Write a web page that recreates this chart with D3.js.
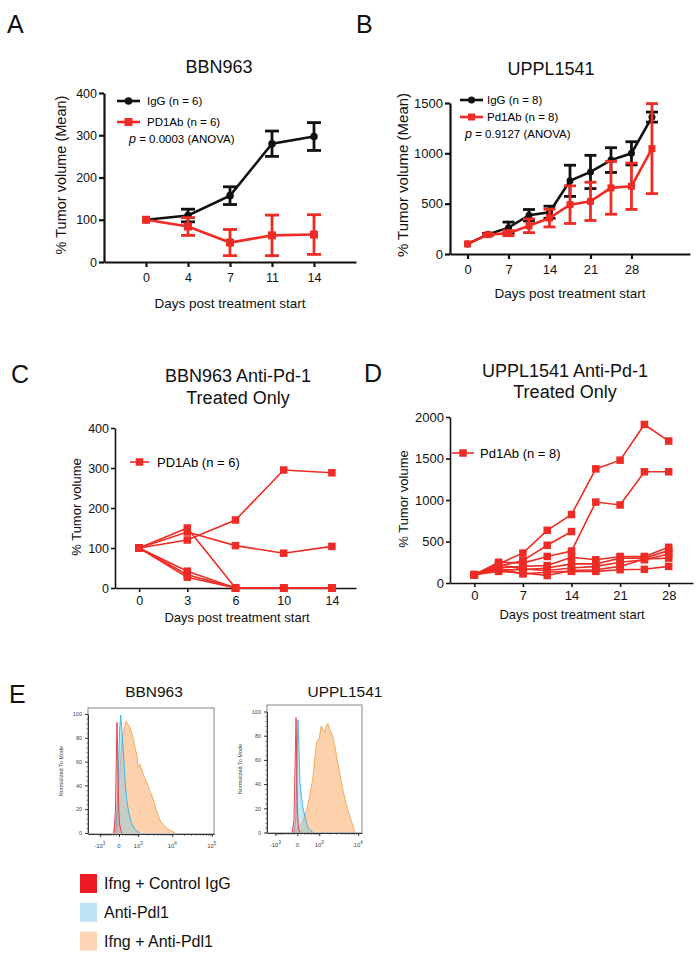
<!DOCTYPE html>
<html><head><meta charset="utf-8">
<script src="https://cdn.jsdelivr.net/npm/d3@7"></script>
<style>
html,body{margin:0;padding:0;background:#fff;}
svg{display:block;font-family:"Liberation Sans",Arial,Helvetica,sans-serif;}
</style></head>
<body><svg id="fig" width="700" height="963"></svg>
<script>
// ---------- DATA ----------
// Panel A (BBN963, mean ± SEM)
const A_days = ["0","4","7","11","14"];
const A_igg_mean = [100,110,157,280,297];
const A_igg_sem  = [0,15,21,30,33];
const A_pd1_mean = [100,84,46,63,65];
const A_pd1_sem  = [0,21,31,48,47];
const A_yticks = [0,100,200,300,400];

// Panel B (UPPL1541, mean ± SEM)
const B_days = [0,3.5,7,10.5,14,17.5,21,24.5,28,31.5];
const B_xticks = [0,7,14,21,28];
const B_igg_mean = [100,195,262,385,415,727,815,933,1000,1360];
const B_igg_sem  = [0,10,55,57,60,155,165,123,115,50];
const B_pd1_mean = [100,192,207,280,357,490,523,657,673,1047];
const B_pd1_sem  = [0,8,25,68,88,187,190,262,230,447];
const B_yticks = [0,500,1000,1500];

// Panel C (BBN963 anti-Pd-1, individual mice)
const C_days = ["0","3","6","10","14"];
const C_mice = [
  [100,120,170,295,288],
  [100,140,106,87,104],
  [100,150,0,0,0],
  [100,42,0,0,0],
  [100,33,0,0,0],
  [100,27,0,0,0]
];
const C_yticks = [0,100,200,300,400];

// Panel D (UPPL1541 anti-Pd-1, individual mice)
const D_days = [0,3.5,7,10.5,14,17.5,21,24.5,28];
const D_xticks = [0,7,14,21,28];
const D_mice = [
  [100,230,360,635,825,1375,1480,1910,1710],
  [100,200,270,455,620,null,null,null,null],
  [100,250,240,320,385,975,940,1340,1340],
  [100,180,200,210,310,280,320,320,430],
  [100,160,160,180,230,230,300,300,390],
  [100,220,170,150,180,200,250,280,350],
  [100,140,120,90,150,160,200,290,300],
  [100,170,110,130,140,140,160,165,200]
];
const D_yticks = [0,500,1000,1500,2000];

// Panel E histograms (fluorescence, % of mode)
const E1_orange_x = [-205,-60,0,93,246,336,438,613,747,900,981,1160,1470,1977,2440,3100,3640,4700,5680,7270,9260,11770];
const E1_orange_y = [0,15,40,80,94,91,89,80,72,65,55,58,50,42,35,28,20,11,7,4,2,0];
const E1_blue_x = [-93,-28,14,51,93,139,204,276,385,533,747,1160];
const E1_blue_y = [0,40,85,99,85,70,45,28,16,8,3,0];
const E1_red_x = [-166,-111,-77,-60,-38,-14,14,60,93];
const E1_red_y = [0,20,70,93,60,25,8,2,0];

const E2_orange_x = [-120,0,150,300,450,596,700,819,1000,1150,1307,1500,1650,1821,2100,2480,2900,3326,4413,5400,6470,8450];
const E2_orange_y = [0,3,8,19,32,46,62,75,78,88,85,83,89,90,84,79,68,56,35,22,13,0];
const E2_blue_x = [-100,-40,0,18,35,72,150,235,350,600];
const E2_blue_y = [0,10,70,93,80,41,22,13,4,0];
const E2_red_x = [-150,-90,-50,-32,-15,0,30,80];
const E2_red_y = [0,10,70,95,60,20,3,0];

const E_xticks = [-1000,0,1000,10000,100000];
const E_xtick_labels = [["-10","3"],["0",""],["10","3"],["10","4"],["10","5"]];
const E_yticks = [0,20,40,60,80,100];
const E_legend = ["Ifng + Control IgG","Anti-Pdl1","Ifng + Anti-Pdl1"];

// ---------- STYLE ----------
const RED = "#ee2b24";
const BLACK = "#111";
const fmt = d3.format("d");
const svg = d3.select("#fig");

function panelLetter(t, x, y){
  svg.append("text").attr("x",x).attr("y",y).attr("font-size",25).attr("fill","#111").text(t);
}
function title(lines, cx, y0, dy){
  lines.forEach((l,i)=>svg.append("text").attr("x",cx).attr("y",y0+i*dy)
    .attr("text-anchor","middle").attr("font-size",18).attr("fill","#111").text(l));
}
function styleAxis(g, fs, sw){
  g.selectAll("path.domain").attr("stroke","#111").attr("stroke-width",sw);
  g.selectAll(".tick line").attr("stroke","#111").attr("stroke-width",sw);
  g.selectAll(".tick text").attr("font-size",fs).attr("fill","#111")
    .attr("font-family","Liberation Sans, Arial, sans-serif");
}
function yLabel(t, x, cy, fs){
  svg.append("text").attr("transform",`translate(${x},${cy}) rotate(-90)`)
    .attr("text-anchor","middle").attr("font-size",fs).attr("fill","#111").text(t);
}
function xLabel(t, cx, y, fs){
  svg.append("text").attr("x",cx).attr("y",y).attr("text-anchor","middle")
    .attr("font-size",fs).attr("fill","#111").text(t);
}
function square(g, cx, cy, s, col){
  g.append("rect").attr("x",cx-s/2).attr("y",cy-s/2).attr("width",s).attr("height",s).attr("fill",col);
}

// ---------- PANEL A ----------
(function(){
  const x = d3.scalePoint().domain(A_days).range([104,356]).padding(1);
  const y = d3.scaleLinear().domain([0,400]).range([262,93]);
  const gx = svg.append("g").attr("transform","translate(0,262)")
    .call(d3.axisBottom(x).tickSize(5).tickSizeOuter(0).tickPadding(6));
  styleAxis(gx,12.5,2.2);
  const gy = svg.append("g").attr("transform","translate(104,0)")
    .call(d3.axisLeft(y).tickValues(A_yticks).tickFormat(fmt).tickSize(5).tickSizeOuter(0).tickPadding(2));
  styleAxis(gy,12.5,2.2);
  const g = svg.append("g");
  const series = [
    {m:A_igg_mean, s:A_igg_sem, c:BLACK, mk:"circle"},
    {m:A_pd1_mean, s:A_pd1_sem, c:RED, mk:"square"}
  ];
  series.forEach(se=>{
    const line = d3.line().x((d,i)=>x(A_days[i])).y(d=>y(d));
    g.append("path").attr("d",line(se.m)).attr("fill","none").attr("stroke",se.c).attr("stroke-width",2.6);
    se.m.forEach((v,i)=>{
      if(se.s[i]>0){
        const cx = x(A_days[i]);
        g.append("line").attr("x1",cx).attr("x2",cx).attr("y1",y(v-se.s[i])).attr("y2",y(v+se.s[i]))
          .attr("stroke",se.c).attr("stroke-width",2.8);
        [v-se.s[i], v+se.s[i]].forEach(e=>g.append("line").attr("x1",cx-7).attr("x2",cx+7)
          .attr("y1",y(e)).attr("y2",y(e)).attr("stroke",se.c).attr("stroke-width",2.8));
      }
      if(se.mk==="circle") g.append("circle").attr("cx",x(A_days[i])).attr("cy",y(v)).attr("r",3.8).attr("fill",se.c);
      else square(g,x(A_days[i]),y(v),8,se.c);
    });
  });
  const lg = svg.append("g");
  lg.append("line").attr("x1",117).attr("x2",140).attr("y1",101).attr("y2",101).attr("stroke",BLACK).attr("stroke-width",2.6);
  lg.append("circle").attr("cx",128.5).attr("cy",101).attr("r",3.8).attr("fill",BLACK);
  lg.append("text").attr("x",147).attr("y",105).attr("font-size",11.5).text("IgG (n = 6)");
  lg.append("line").attr("x1",117).attr("x2",140).attr("y1",122).attr("y2",122).attr("stroke",RED).attr("stroke-width",2.6);
  square(lg,128.5,122,8,RED);
  lg.append("text").attr("x",147).attr("y",126).attr("font-size",11.5).text("PD1Ab (n = 6)");
  const pt = lg.append("text").attr("x",129).attr("y",143).attr("font-size",11.5);
  pt.append("tspan").attr("font-style","italic").attr("font-size",12.5).text("p");
  pt.append("tspan").text(" = 0.0003 (ANOVA)");
  yLabel("% Tumor volume (Mean)",66,175,14.5);
  xLabel("Days post treatment start",230,308,13.5);
  title(["BBN963"],219,73,0);
  panelLetter("A",7,33);
})();

// ---------- PANEL B ----------
(function(){
  const x = d3.scaleLinear().domain([-3,38]).range([450,690]);
  const y = d3.scaleLinear().domain([0,1500]).range([254,103]);
  const gx = svg.append("g").attr("transform","translate(0,254)")
    .call(d3.axisBottom(x).tickValues(B_xticks).tickFormat(fmt).tickSize(5).tickSizeOuter(0).tickPadding(6));
  styleAxis(gx,13,2.2);
  const gy = svg.append("g").attr("transform","translate(450,0)")
    .call(d3.axisLeft(y).tickValues(B_yticks).tickFormat(fmt).tickSize(5).tickSizeOuter(0).tickPadding(2));
  styleAxis(gy,13,2.2);
  const g = svg.append("g");
  const series = [
    {m:B_igg_mean, s:B_igg_sem, c:BLACK, mk:"circle"},
    {m:B_pd1_mean, s:B_pd1_sem, c:RED, mk:"square"}
  ];
  series.forEach(se=>{
    const line = d3.line().x((d,i)=>x(B_days[i])).y(d=>y(d));
    g.append("path").attr("d",line(se.m)).attr("fill","none").attr("stroke",se.c).attr("stroke-width",2.6);
    se.m.forEach((v,i)=>{
      const cx = x(B_days[i]);
      if(se.s[i]>0){
        g.append("line").attr("x1",cx).attr("x2",cx).attr("y1",y(v-se.s[i])).attr("y2",y(v+se.s[i]))
          .attr("stroke",se.c).attr("stroke-width",2.8);
        [v-se.s[i], v+se.s[i]].forEach(e=>g.append("line").attr("x1",cx-6).attr("x2",cx+6)
          .attr("y1",y(e)).attr("y2",y(e)).attr("stroke",se.c).attr("stroke-width",2.8));
      }
      if(se.mk==="circle") g.append("circle").attr("cx",cx).attr("cy",y(v)).attr("r",3.5).attr("fill",se.c);
      else square(g,cx,y(v),7,se.c);
    });
  });
  const lg = svg.append("g");
  lg.append("line").attr("x1",460).attr("x2",483).attr("y1",100).attr("y2",100).attr("stroke",BLACK).attr("stroke-width",2.6);
  lg.append("circle").attr("cx",471.5).attr("cy",100).attr("r",3.5).attr("fill",BLACK);
  lg.append("text").attr("x",487).attr("y",104).attr("font-size",11.5).text("IgG (n = 8)");
  lg.append("line").attr("x1",460).attr("x2",483).attr("y1",117).attr("y2",117).attr("stroke",RED).attr("stroke-width",2.6);
  square(lg,471.5,117,7,RED);
  lg.append("text").attr("x",487).attr("y",121).attr("font-size",11.5).text("Pd1Ab (n = 8)");
  const pt = lg.append("text").attr("x",465).attr("y",138).attr("font-size",11.5);
  pt.append("tspan").attr("font-style","italic").attr("font-size",12.5).text("p");
  pt.append("tspan").text(" = 0.9127 (ANOVA)");
  yLabel("% Tumor volume (Mean)",408,175,15);
  xLabel("Days post treatment start",570,298,13.5);
  title(["UPPL1541"],551,75,0);
  panelLetter("B",356,33);
})();

// ---------- PANEL C ----------
(function(){
  const x = d3.scalePoint().domain(C_days).range([115,356]).padding(0.5);
  const y = d3.scaleLinear().domain([0,400]).range([588,428]);
  const gx = svg.append("g").attr("transform","translate(0,588)")
    .call(d3.axisBottom(x).tickSize(4).tickSizeOuter(0).tickPadding(4));
  styleAxis(gx,12.5,1.6);
  const gy = svg.append("g").attr("transform","translate(115,0)")
    .call(d3.axisLeft(y).tickValues(C_yticks).tickFormat(fmt).tickSize(4).tickSizeOuter(0).tickPadding(2));
  styleAxis(gy,12.5,1.6);
  const g = svg.append("g");
  const line = d3.line().x((d,i)=>x(C_days[i])).y(d=>y(d));
  C_mice.forEach(m=>{
    g.append("path").attr("d",line(m)).attr("fill","none").attr("stroke",RED).attr("stroke-width",1.6);
  });
  C_mice.forEach(m=>m.forEach((v,i)=>square(g,x(C_days[i]),y(v),7.5,RED)));
  const lg = svg.append("g");
  lg.append("line").attr("x1",130).attr("x2",149).attr("y1",462).attr("y2",462).attr("stroke",RED).attr("stroke-width",1.6);
  square(lg,139.5,462,7.5,RED);
  lg.append("text").attr("x",157).attr("y",467).attr("font-size",13).text("PD1Ab (n = 6)");
  yLabel("% Tumor volume",81,507,13);
  xLabel("Days post treatment start",237,622,13);
  title(["BBN963 Anti-Pd-1","Treated Only"],238,382,22);
  panelLetter("C",11,383);
})();

// ---------- PANEL D ----------
(function(){
  const x = d3.scaleLinear().domain([-3.5,31.5]).range([450,693]);
  const y = d3.scaleLinear().domain([0,2000]).range([583,417]);
  const gx = svg.append("g").attr("transform","translate(0,583)")
    .call(d3.axisBottom(x).tickValues(D_xticks).tickFormat(fmt).tickSize(4).tickSizeOuter(0).tickPadding(4));
  styleAxis(gx,13,1.6);
  const gy = svg.append("g").attr("transform","translate(450,0)")
    .call(d3.axisLeft(y).tickValues(D_yticks).tickFormat(fmt).tickSize(4).tickSizeOuter(0).tickPadding(2));
  styleAxis(gy,13,1.6);
  const g = svg.append("g");
  const line = d3.line().defined(d=>d!==null).x((d,i)=>x(D_days[i])).y(d=>y(d));
  D_mice.forEach(m=>{
    g.append("path").attr("d",line(m)).attr("fill","none").attr("stroke",RED).attr("stroke-width",1.6);
  });
  D_mice.forEach(m=>m.forEach((v,i)=>{ if(v!==null) square(g,x(D_days[i]),y(v),7.5,RED); }));
  const lg = svg.append("g");
  lg.append("line").attr("x1",452).attr("x2",474).attr("y1",453).attr("y2",453).attr("stroke",RED).attr("stroke-width",1.6);
  square(lg,463,453,7.5,RED);
  lg.append("text").attr("x",480).attr("y",458).attr("font-size",13).text("Pd1Ab (n = 8)");
  yLabel("% Tumor volume",408,499,13);
  xLabel("Days post treatment start",572,619,13);
  title(["UPPL1541 Anti-Pd-1","Treated Only"],565,377,21);
  panelLetter("D",364,382);
})();

// ---------- PANEL E ----------
function histPlot(cfg){
  const x = d3.scaleSymlog().constant(500).domain(cfg.xdom).range([cfg.x0,cfg.x1]);
  const y = d3.scaleLinear().domain([0,100]).range([cfg.yb,cfg.yt]);
  const g = svg.append("g");
  const clipId = "clip"+cfg.id;
  svg.append("clipPath").attr("id",clipId).append("rect")
    .attr("x",cfg.x0).attr("y",cfg.top).attr("width",cfg.x1-cfg.x0).attr("height",cfg.bottom-cfg.top);
  const pg = g.append("g").attr("clip-path",`url(#${clipId})`);
  const area = (xs)=>d3.area().x((d,i)=>x(xs[i])).y0(y(0)).y1(d=>y(d));
  const lineF = (xs)=>d3.line().x((d,i)=>x(xs[i])).y(d=>y(d));
  const layers = [
    {xs:cfg.ox, ys:cfg.oy, fill:"#fbc596", fo:0.8, st:"#f4a454"},
    {xs:cfg.bx, ys:cfg.by, fill:"#7fcbe6", fo:0.45, st:"#2fb2e4"},
    {xs:cfg.rx, ys:cfg.ry, fill:"#f07a80", fo:0.35, st:"#e8323a"}
  ];
  layers.forEach(L=>{
    pg.append("path").attr("d",area(L.xs)(L.ys)).attr("fill",L.fill).attr("fill-opacity",L.fo);
    pg.append("path").attr("d",lineF(L.xs)(L.ys)).attr("fill","none").attr("stroke",L.st).attr("stroke-width",0.9);
  });
  g.append("rect").attr("x",cfg.x0).attr("y",cfg.top).attr("width",cfg.x1-cfg.x0).attr("height",cfg.bottom-cfg.top)
    .attr("fill","none").attr("stroke","#777").attr("stroke-width",0.9);
  const gy = g.append("g").attr("transform",`translate(${cfg.x0},0)`)
    .call(d3.axisLeft(y).tickValues(E_yticks).tickSize(3).tickSizeOuter(0).tickPadding(3));
  gy.selectAll("path.domain").attr("stroke","#333");
  gy.selectAll(".tick line").attr("stroke","#333");
  gy.selectAll(".tick text").attr("font-size",5.5).attr("fill","#444");
  const minorY = d3.range(0,101,4).filter(v=>v%20!==0);
  g.append("g").attr("transform",`translate(${cfg.x0},0)`)
    .call(d3.axisLeft(y).tickValues(minorY).tickSize(1.8).tickFormat(""))
    .call(a=>{a.select("path.domain").remove(); a.selectAll("line").attr("stroke","#555").attr("stroke-width",0.6);});
  const dom = x.domain();
  const majors = E_xticks.filter(v=>v>=dom[0]&&v<=dom[1]);
  const gx = g.append("g").attr("transform",`translate(0,${cfg.bottom})`)
    .call(d3.axisBottom(x).tickValues(majors).tickSize(3).tickSizeOuter(0).tickFormat(""));
  gx.selectAll("path.domain").attr("stroke","#333");
  gx.selectAll(".tick line").attr("stroke","#333");
  const mx = [];
  d3.range(1,10).forEach(k=>{mx.push(k*100); mx.push(-k*100);});
  d3.range(2,10).forEach(k=>{mx.push(k*1000); mx.push(k*10000);});
  g.append("g").attr("transform",`translate(0,${cfg.bottom})`)
    .call(d3.axisBottom(x).tickValues(mx.filter(v=>v>dom[0]&&v<dom[1])).tickSize(1.8).tickFormat(""))
    .call(a=>{a.select("path.domain").remove(); a.selectAll("line").attr("stroke","#333").attr("stroke-width",0.6);});
  majors.forEach(v=>{
    const lab = E_xtick_labels[E_xticks.indexOf(v)];
    const t = g.append("text").attr("x",x(v)).attr("y",cfg.bottom+14).attr("text-anchor","middle")
      .attr("font-size",6).attr("fill","#444");
    t.append("tspan").text(lab[0]);
    if(lab[1]) t.append("tspan").attr("dy",-3).attr("font-size",4.5).text(lab[1]);
  });
  g.append("text").attr("transform",`translate(${cfg.ylx},${(cfg.top+cfg.bottom)/2}) rotate(-90)`)
    .attr("text-anchor","middle").attr("font-size",5.5).attr("fill","#444").text("Normalized To Mode");
  svg.append("text").attr("x",cfg.tx).attr("y",697).attr("text-anchor","middle").attr("font-size",15.5)
    .attr("fill","#111").text(cfg.title);
}
histPlot({id:1,title:"BBN963",tx:154,xdom:[-2438,113600],x0:88,x1:214,top:708,bottom:834,yb:833,yt:714,ylx:63,
  ox:E1_orange_x,oy:E1_orange_y,bx:E1_blue_x,by:E1_blue_y,rx:E1_red_x,ry:E1_red_y});
histPlot({id:2,title:"UPPL1541",tx:345,xdom:[-1775,12200],x0:267,x1:362,top:705,bottom:833,yb:832.5,yt:711.5,ylx:242,
  ox:E2_orange_x,oy:E2_orange_y,bx:E2_blue_x,by:E2_blue_y,rx:E2_red_x,ry:E2_red_y});
panelLetter("E",9,703);

const E_cols = ["#ed1c24","#bde3f4","#fdd5b6"];
E_legend.forEach((t,i)=>{
  svg.append("rect").attr("x",80).attr("y",874+i*28.8).attr("width",17).attr("height",19).attr("fill",E_cols[i]);
  svg.append("text").attr("x",104).attr("y",889+i*29).attr("font-size",16).attr("fill","#111").text(t);
});
</script></body></html>
